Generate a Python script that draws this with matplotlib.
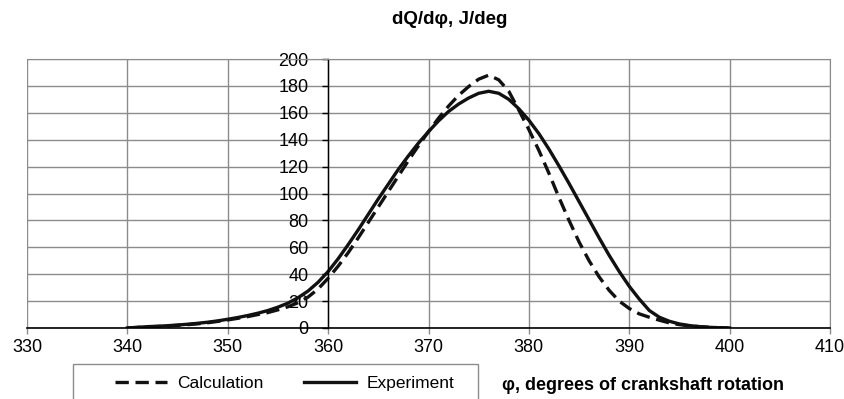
import numpy as np
import matplotlib.pyplot as plt
from matplotlib.patches import Rectangle

plt.rcParams['font.family'] = ['Liberation Sans', 'DejaVu Sans']

# crank angle, degrees
phi = np.arange(340, 401)

# heat release rate dQ/dphi, J/deg
experiment = [0, 0.5, 1, 1.3, 1.7, 2.2, 2.8, 3.5, 4.3, 5.3,
              6.5, 7.8, 9.3, 11, 13, 15.5, 18.5, 22.5, 27.5, 34,
              42, 51.5, 62, 73, 84.5, 96, 107, 118, 128, 137.5,
              146, 154, 161, 166.5, 171, 174.5, 176, 174.5, 170, 163,
              154.5, 144.5, 133, 120.5, 107.5, 94, 80.5, 67, 54, 42,
              31, 21.5, 13, 8, 5, 3, 1.8, 1, 0.5, 0.2, 0]
calculation = [0, 0.4, 0.8, 1.1, 1.5, 2, 2.5, 3.1, 3.9, 4.9,
               6, 7.2, 8.5, 10, 11.5, 13.5, 15.8, 18.8, 23, 29,
               37, 46, 56, 67, 78.5, 90, 101.5, 113, 124.5, 135.5,
               146, 156, 165, 173, 179.5, 185, 188, 184.5, 176, 162,
               147.5, 132, 115, 97, 80, 64, 50, 38, 28, 20,
               14.5, 10.5, 8, 5.8, 3.8, 2.5, 1.6, 1, 0.5, 0.2, 0]

fig = plt.figure(figsize=(8.45, 3.99), dpi=100)
ax = fig.add_axes([27/845, 1 - 328/399, (830 - 27)/845, (328 - 59)/399])

ax.plot(phi, calculation, color='#111111', lw=2.4, ls=(0, (4, 2)), label='Calculation')
ax.plot(phi, experiment, color='#111111', lw=2.4, label='Experiment')

ax.set_xlim(330, 410)
ax.set_ylim(0, 200)
ax.set_xticks(np.arange(330, 411, 10))
ax.set_yticks(np.arange(0, 201, 20))
ax.grid(True, color='#8c8c8c', lw=1)
ax.set_axisbelow(True)

# y axis crosses at 360
ax.spines['left'].set_position(('data', 360))
ax.spines['left'].set_color('black')
ax.spines['left'].set_linewidth(1)
ax.spines['bottom'].set_color('black')
ax.spines['bottom'].set_linewidth(1.2)
ax.spines['top'].set_color('#8c8c8c')
ax.spines['right'].set_color('#8c8c8c')
ax.tick_params(axis='y', direction='out', length=4, width=1, labelsize=13, pad=10)
ax.tick_params(axis='x', direction='out', length=4, width=1, color='#8c8c8c',
               labelsize=13, pad=4)

fig.text(450/845, 1 - 20/399, 'dQ/dφ, J/deg', ha='center', va='center',
         fontsize=13.5, fontweight='bold')
fig.text(502/845, 1 - 386/399, 'φ, degrees of crankshaft rotation', ha='left',
         va='center', fontsize=13, fontweight='bold')

# legend box (runs off the bottom like the original)
fig.patches.append(Rectangle((73/845, -0.05), (478 - 73)/845, 0.05 + 1 - 364/399,
                             transform=fig.transFigure, fill=False,
                             edgecolor='#8c8c8c', lw=1))
fig.legend(loc='center left', bbox_to_anchor=(115/845, 1 - 383/399), ncol=2,
           frameon=False, fontsize=12.5, borderpad=0, borderaxespad=0,
           handlelength=3.0, handletextpad=0.6, columnspacing=2.3)

fig.savefig('out.png', dpi=100)
